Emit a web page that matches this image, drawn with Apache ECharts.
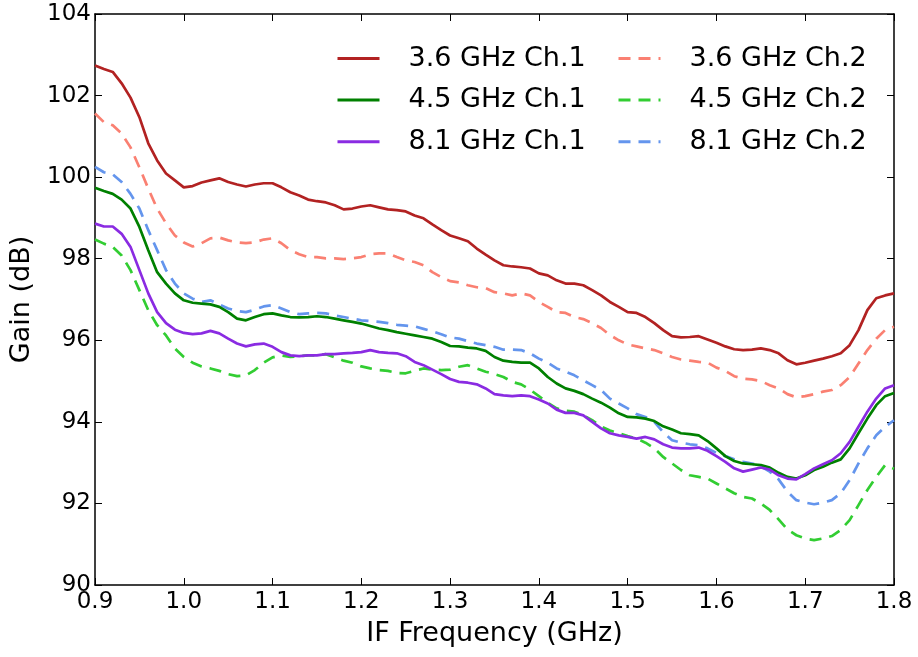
<!DOCTYPE html>
<html>
<head>
<meta charset="utf-8">
<script src="https://cdn.jsdelivr.net/npm/echarts@6/dist/echarts.min.js"></script>
<style>
html,body{margin:0;padding:0;background:#fff;}
#chart{width:918px;height:657px;}
</style>
</head>
<body>
<div id="chart"></div>
<script>
var freq = [0.90,0.91,0.92,0.93,0.94,0.95,0.96,0.97,0.98,0.99,
1.00,1.01,1.02,1.03,1.04,1.05,1.06,1.07,1.08,1.09,
1.10,1.11,1.12,1.13,1.14,1.15,1.16,1.17,1.18,1.19,
1.20,1.21,1.22,1.23,1.24,1.25,1.26,1.27,1.28,1.29,
1.30,1.31,1.32,1.33,1.34,1.35,1.36,1.37,1.38,1.39,
1.40,1.41,1.42,1.43,1.44,1.45,1.46,1.47,1.48,1.49,
1.50,1.51,1.52,1.53,1.54,1.55,1.56,1.57,1.58,1.59,
1.60,1.61,1.62,1.63,1.64,1.65,1.66,1.67,1.68,1.69,
1.70,1.71,1.72,1.73,1.74,1.75,1.76,1.77,1.78,1.79,1.80];

var ch1_36 = [102.74,102.65,102.58,102.30,101.95,101.47,100.83,100.41,100.09,99.92,
99.75,99.78,99.87,99.92,99.97,99.88,99.82,99.77,99.82,99.85,
99.85,99.75,99.63,99.55,99.45,99.41,99.38,99.31,99.21,99.23,
99.28,99.31,99.26,99.21,99.19,99.16,99.06,98.99,98.84,98.70,
98.57,98.50,98.43,98.25,98.10,97.96,97.84,97.81,97.79,97.76,
97.64,97.59,97.47,97.39,97.39,97.35,97.23,97.10,96.94,96.82,
96.69,96.67,96.57,96.42,96.25,96.10,96.07,96.08,96.10,96.02,
95.94,95.85,95.78,95.76,95.77,95.80,95.76,95.68,95.51,95.41,
95.45,95.50,95.55,95.61,95.68,95.88,96.25,96.74,97.03,97.10,97.15];

var ch2_36 = [101.56,101.35,101.27,101.07,100.73,100.24,99.72,99.23,98.87,98.57,
98.40,98.30,98.38,98.50,98.52,98.45,98.40,98.38,98.40,98.47,
98.50,98.38,98.21,98.11,98.04,98.04,98.01,98.01,97.99,98.01,
98.04,98.11,98.13,98.13,98.04,97.96,97.92,97.84,97.67,97.55,
97.45,97.42,97.35,97.30,97.28,97.18,97.15,97.10,97.15,97.10,
96.94,96.82,96.69,96.67,96.57,96.52,96.42,96.30,96.13,96.00,
95.90,95.85,95.80,95.76,95.68,95.59,95.53,95.50,95.47,95.45,
95.33,95.25,95.12,95.06,95.04,95.00,94.90,94.82,94.68,94.60,
94.63,94.68,94.74,94.78,94.90,95.10,95.43,95.76,96.04,96.25,96.33];

var ch1_45 = [99.74,99.66,99.59,99.45,99.23,98.78,98.21,97.67,97.39,97.15,
96.98,96.92,96.90,96.88,96.82,96.69,96.53,96.49,96.57,96.64,
96.66,96.61,96.57,96.56,96.57,96.59,96.57,96.53,96.49,96.45,
96.41,96.35,96.29,96.25,96.20,96.16,96.12,96.08,96.04,95.96,
95.86,95.85,95.82,95.80,95.74,95.59,95.50,95.47,95.45,95.45,
95.31,95.10,94.94,94.82,94.76,94.68,94.57,94.47,94.35,94.21,
94.12,94.11,94.08,94.02,93.89,93.81,93.72,93.70,93.67,93.53,
93.35,93.16,93.04,92.98,92.96,92.94,92.88,92.75,92.65,92.61,
92.69,92.82,92.90,93.00,93.08,93.35,93.72,94.08,94.41,94.63,94.71];

var ch2_45 = [98.47,98.37,98.29,98.08,97.72,97.23,96.74,96.37,96.12,95.80,
95.59,95.45,95.36,95.31,95.25,95.17,95.12,95.14,95.27,95.45,
95.58,95.63,95.59,95.61,95.63,95.63,95.66,95.58,95.50,95.45,
95.36,95.31,95.27,95.25,95.20,95.19,95.25,95.31,95.28,95.27,
95.28,95.35,95.39,95.31,95.23,95.17,95.10,94.98,94.92,94.79,
94.63,94.47,94.33,94.27,94.25,94.16,94.04,93.89,93.79,93.72,
93.65,93.59,93.49,93.35,93.14,92.98,92.82,92.69,92.65,92.61,
92.49,92.37,92.25,92.16,92.12,92.00,91.84,91.61,91.36,91.22,
91.14,91.10,91.14,91.20,91.35,91.59,91.96,92.33,92.65,92.94,92.85];

var ch1_81 = [98.86,98.79,98.79,98.61,98.29,97.72,97.15,96.69,96.42,96.26,
96.18,96.15,96.17,96.23,96.17,96.04,95.92,95.85,95.90,95.92,
95.84,95.71,95.63,95.61,95.63,95.63,95.66,95.66,95.68,95.69,
95.71,95.76,95.71,95.69,95.68,95.61,95.47,95.39,95.28,95.17,
95.05,94.98,94.96,94.92,94.82,94.68,94.65,94.63,94.65,94.63,
94.55,94.45,94.30,94.22,94.22,94.16,94.00,93.84,93.72,93.67,
93.63,93.59,93.63,93.57,93.45,93.37,93.35,93.35,93.37,93.29,
93.16,93.02,92.86,92.78,92.83,92.88,92.83,92.69,92.61,92.59,
92.72,92.86,92.96,93.06,93.23,93.51,93.88,94.25,94.57,94.82,94.90];

var ch2_81 = [100.25,100.12,100.07,99.88,99.59,99.23,98.70,98.21,97.72,97.39,
97.15,97.02,96.94,96.98,96.88,96.78,96.72,96.69,96.75,96.83,
96.86,96.78,96.69,96.64,96.66,96.67,96.66,96.61,96.57,96.53,
96.49,96.47,96.45,96.42,96.38,96.36,96.34,96.28,96.22,96.15,
96.07,96.04,95.98,95.92,95.88,95.84,95.77,95.77,95.76,95.68,
95.55,95.45,95.31,95.23,95.14,95.02,94.90,94.78,94.57,94.45,
94.33,94.19,94.12,94.00,93.75,93.55,93.49,93.45,93.43,93.35,
93.24,93.16,93.08,93.02,92.98,92.91,92.78,92.59,92.29,92.08,
92.02,91.98,92.02,92.08,92.25,92.57,92.98,93.35,93.67,93.88,94.04];

var seriesNames = ['3.6 GHz Ch.1','4.5 GHz Ch.1','8.1 GHz Ch.1','3.6 GHz Ch.2','4.5 GHz Ch.2','8.1 GHz Ch.2'];
var seriesData = [ch1_36, ch1_45, ch1_81, ch2_36, ch2_45, ch2_81];
var seriesColors = ['#B22222','#008000','#8A2BE2','#FA8072','#32CD32','#6495ED'];
var xTicks = {min:0.9, max:1.8, step:0.1};
var yTicks = {min:90, max:104, step:2};

var FONT = 'DejaVu Sans';

function pairs(arr){
  return freq.map(function(f,i){return [f, arr[i]];});
}

var series = seriesData.map(function(d,i){
  var dashed = i >= 3;
  return {
    name: seriesNames[i],
    type: 'line',
    data: pairs(d),
    symbol: 'none',
    showSymbol: false,
    smooth: false,
    animation: false,
    z: dashed ? 2 : 3,
    lineStyle: {color: seriesColors[i], width: 2.7, type: dashed ? [12, 8] : 'solid'},
    itemStyle: {color: seriesColors[i]}
  };
});

function mkX(pos, show){
  return {
    type:'value', position: pos, min:xTicks.min, max:xTicks.max, interval:xTicks.step,
    axisLine:{show:true, onZero:false, lineStyle:{color:'#000', width:1.5}},
    axisTick:{show:true, inside:true, length:7, lineStyle:{color:'#000', width:1}},
    splitLine:{show:false},
    axisLabel:{show:show, color:'#000', fontFamily:FONT, fontSize:23, margin:6,
      formatter:function(v){return v.toFixed(1);}},
    name: show ? 'IF Frequency (GHz)' : '',
    nameLocation:'middle', nameGap:35,
    nameTextStyle:{color:'#000', fontFamily:FONT, fontSize:27}
  };
}
function mkY(pos, show){
  return {
    type:'value', position: pos, min:yTicks.min, max:yTicks.max, interval:yTicks.step,
    axisLine:{show:true, onZero:false, lineStyle:{color:'#000', width:1.5}},
    axisTick:{show:true, inside:true, length:7, lineStyle:{color:'#000', width:1}},
    splitLine:{show:false},
    axisLabel:{show:show, color:'#000', fontFamily:FONT, fontSize:23, margin:4},
    name: show ? 'Gain (dB)' : '',
    nameLocation:'middle', nameGap:60, nameRotate:90,
    nameTextStyle:{color:'#000', fontFamily:FONT, fontSize:27}
  };
}

function mkLegend(left, names){
  return {
    show:true,
    orient:'vertical', left:left, top:44, padding:0,
    itemWidth:42, itemHeight:14, itemGap:12.6,
    itemStyle:{opacity:0},
    lineStyle:{width:3},
    textStyle:{color:'#000', fontFamily:FONT, fontSize:27, padding:[0,0,0,24], lineHeight:29},
    selectedMode:false,
    data: names.map(function(n){return {name:n};})
  };
}

var option = {
  animation:false,
  backgroundColor:'#fff',
  grid:{left:94, right:24, top:14, bottom:72},
  xAxis:[mkX('bottom', true), mkX('top', false)],
  yAxis:[mkY('left', true), mkY('right', false)],
  legend:[
    mkLegend(336, seriesNames.slice(0,3)),
    mkLegend(617, seriesNames.slice(3,6))
  ],
  series: series
};

var chart = echarts.init(document.getElementById('chart'), null, {renderer:'canvas'});
chart.setOption(option);
</script>
</body>
</html>
